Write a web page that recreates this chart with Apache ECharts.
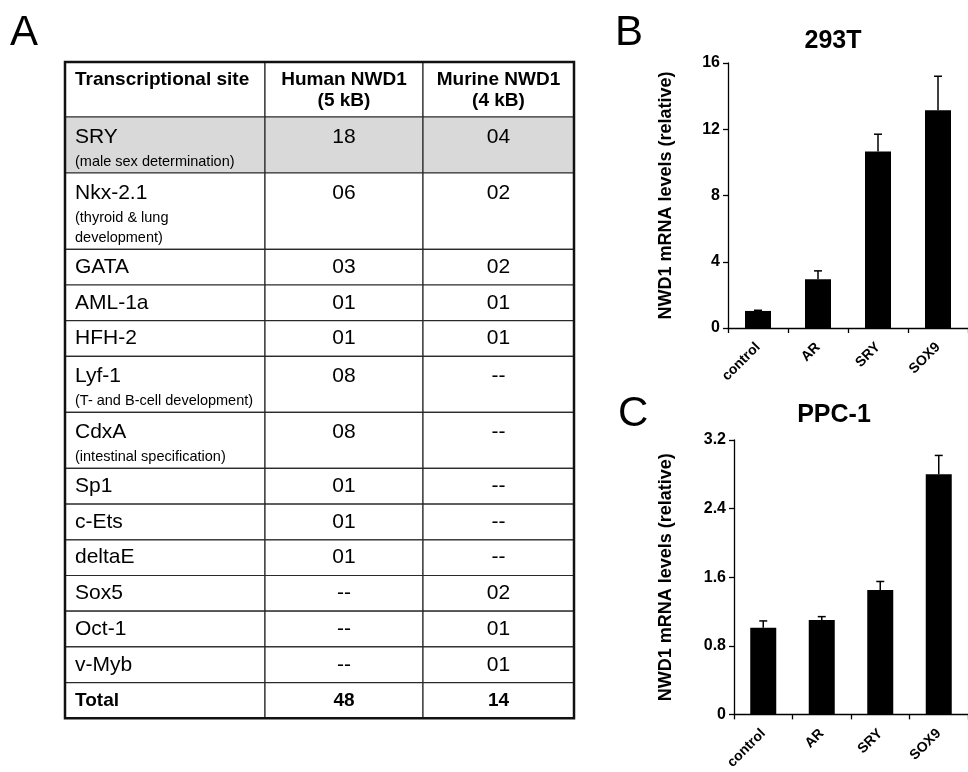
<!DOCTYPE html>
<html>
<head>
<meta charset="utf-8">
<script src="https://cdn.jsdelivr.net/npm/echarts@6/dist/echarts.min.js"></script>
<style>
html,body{margin:0;padding:0;background:#fff;}
#chart{width:968px;height:772px;}
</style>
</head>
<body>
<div id="chart"></div>
<script>
// ---------- DATA ----------
const tableHeaders = ['Transcriptional site', 'Human NWD1\n(5 kB)', 'Murine NWD1\n(4 kB)'];
const siteNames = ['SRY', 'Nkx-2.1', 'GATA', 'AML-1a', 'HFH-2', 'Lyf-1', 'CdxA', 'Sp1', 'c-Ets', 'deltaE', 'Sox5', 'Oct-1', 'v-Myb'];
const siteNotes = ['(male sex determination)', '(thyroid & lung\ndevelopment)', '', '', '', '(T- and B-cell development)', '(intestinal specification)', '', '', '', '', '', ''];
const humanSites = ['18', '06', '03', '01', '01', '08', '08', '01', '01', '01', '--', '--', '--'];
const murineSites = ['04', '02', '02', '01', '01', '--', '--', '--', '--', '--', '02', '01', '01'];
const totalLabel = 'Total';
const totalHuman = '48';
const totalMurine = '14';
const highlightedSites = ['SRY'];

const treatments = ['control', 'AR', 'SRY', 'SOX9'];
const mRNA293T = [1.03, 2.95, 10.65, 13.15];
const err293T = [0.04, 0.5, 1.05, 2.05];
const mRNAPPC1 = [1.01, 1.10, 1.45, 2.80];
const errPPC1 = [0.08, 0.04, 0.10, 0.22];
const yTicks293T = { min: 0, max: 16, interval: 4 };
const yTicksPPC1 = { min: 0, max: 3.2, interval: 0.8 };

// ---------- LAYOUT ----------
const FONT = '"Liberation Sans", Arial, Helvetica, sans-serif';
const colEdges = [0, 200, 358, 509];      // table column boundaries (px units)
const SINGLE_ROW = 35.7, NOTE_LINE = 20.3, HEADER_ROW = 55;

// build table rows from the named arrays
const tableRows = [];
tableRows.push({ kind: 'header', cells: tableHeaders, h: HEADER_ROW });
siteNames.forEach((name, i) => {
  const noteLines = siteNotes[i] ? siteNotes[i].split('\n').length : 0;
  tableRows.push({
    kind: 'site', name: name, note: siteNotes[i],
    cells: [name, humanSites[i], murineSites[i]],
    shaded: highlightedSites.indexOf(name) >= 0,
    h: SINGLE_ROW + NOTE_LINE * noteLines
  });
});
tableRows.push({ kind: 'total', cells: [totalLabel, totalHuman, totalMurine], h: SINGLE_ROW });

let acc = 0;
const tableData = tableRows.map((r, i) => { const d = [acc, acc + r.h, i]; acc += r.h; return d; });
const tableTotal = acc;

function renderTableRow(params, api) {
  const y0 = api.value(0), y1 = api.value(1), idx = api.value(2);
  const row = tableRows[idx];
  const children = [];
  const single = !row.note && row.kind !== 'header';
  for (let c = 0; c < 3; c++) {
    const p0 = api.coord([colEdges[c], y0]);
    const p1 = api.coord([colEdges[c + 1], y1]);
    children.push({
      type: 'rect',
      shape: { x: p0[0], y: p0[1], width: p1[0] - p0[0], height: p1[1] - p0[1] },
      style: { fill: row.shaded ? '#d9d9d9' : '#ffffff', stroke: '#2a2a2a', lineWidth: 1.2 }
    });
    const xLeft = p0[0], xMid = (p0[0] + p1[0]) / 2;
    const yTop = p0[1], yMid = (p0[1] + p1[1]) / 2;
    const bold = row.kind !== 'site';
    const size = row.kind === 'header' ? 19 : (row.kind === 'total' ? 19 : 21);
    if (row.kind === 'header') {
      children.push({
        type: 'text', x: c === 0 ? xLeft + 10 : xMid, y: yTop + 7.5,
        style: { text: row.cells[c], fill: '#000', fontFamily: FONT, fontWeight: 'bold', fontSize: size,
                 lineHeight: 21, align: c === 0 ? 'left' : 'center', verticalAlign: 'top' }
      });
    } else {
      children.push({
        type: 'text', x: c === 0 ? xLeft + 10 : xMid, y: single ? yMid : yTop + 20,
        style: { text: row.cells[c], fill: '#000', fontFamily: FONT, fontWeight: bold ? 'bold' : 'normal',
                 fontSize: size, align: c === 0 ? 'left' : 'center', verticalAlign: 'middle' }
      });
      if (c === 0 && row.note) {
        children.push({
          type: 'text', x: xLeft + 10, y: yTop + 35,
          style: { text: row.note, fill: '#000', fontFamily: FONT, fontSize: 14.5, lineHeight: 20,
                   align: 'left', verticalAlign: 'top' }
        });
      }
    }
  }
  return { type: 'group', children: children };
}

function renderFrame(params, api) {
  const p0 = api.coord([colEdges[0], 0]);
  const p1 = api.coord([colEdges[3], api.value(1)]);
  return { type: 'rect', shape: { x: p0[0], y: p0[1], width: p1[0] - p0[0], height: p1[1] - p0[1] },
           style: { fill: 'none', stroke: '#111', lineWidth: 2.5 } };
}

function makeErrorRenderer(values, errors) {
  return function (params, api) {
    const i = api.value(0);
    const top = api.coord([i, values[i]]);
    const end = api.coord([i, values[i] + errors[i]]);
    return {
      type: 'group',
      children: [
        { type: 'line', shape: { x1: top[0], y1: top[1], x2: end[0], y2: end[1] }, style: { stroke: '#000', lineWidth: 1.5 } },
        { type: 'line', shape: { x1: end[0] - 4, y1: end[1], x2: end[0] + 4, y2: end[1] }, style: { stroke: '#000', lineWidth: 1.5 } }
      ]
    };
  };
}

function valueAxis(grid, ticks, gap) {
  return {
    type: 'value', gridIndex: grid, min: ticks.min, max: ticks.max, interval: ticks.interval,
    name: 'NWD1 mRNA levels (relative)', nameLocation: 'middle', nameRotate: 90, nameGap: gap,
    nameTextStyle: { fontFamily: FONT, fontWeight: 'bold', fontSize: 18, color: '#000' },
    axisLine: { show: true, lineStyle: { color: '#000', width: 1.3 } },
    axisTick: { show: true, inside: false, length: 5, lineStyle: { color: '#000', width: 1.3 } },
    splitLine: { show: false },
    axisLabel: { fontFamily: FONT, fontWeight: 'bold', fontSize: 16, color: '#000', margin: 8 }
  };
}
function categoryAxis(grid) {
  return {
    type: 'category', gridIndex: grid, data: treatments, boundaryGap: true,
    axisLine: { show: true, lineStyle: { color: '#000', width: 1.3 } },
    axisTick: { show: true, alignWithLabel: false, length: 5, lineStyle: { color: '#000', width: 1.3 } },
    axisLabel: { interval: 0, rotate: 45, margin: 17, fontFamily: FONT, fontWeight: 'bold', fontSize: 14, color: '#000' }
  };
}

const letterStyle = { fontFamily: FONT, fontWeight: 'normal', fontSize: 42, color: '#000' };
const titleStyle = { fontFamily: FONT, fontWeight: 'bold', fontSize: 25, color: '#000' };

const chart = echarts.init(document.getElementById('chart'), null, { renderer: 'canvas' });
chart.setOption({
  animation: false,
  backgroundColor: '#ffffff',
  title: [
    { text: 'A', left: 10, top: 12, padding: 0, textStyle: letterStyle },
    { text: 'B', left: 615, top: 12, padding: 0, textStyle: letterStyle },
    { text: 'C', left: 618, top: 393, padding: 0, textStyle: letterStyle },
    { text: '293T', left: 833, top: 29, padding: 0, textAlign: 'center', textStyle: titleStyle },
    { text: 'PPC-1', left: 834, top: 403, padding: 0, textAlign: 'center', textStyle: titleStyle }
  ],
  grid: [
    { left: 65, top: 62, width: colEdges[3], height: tableTotal, containLabel: false },
    { left: 728, top: 63, right: -8, height: 265, containLabel: false },
    { left: 734, top: 440, right: -10, height: 278, containLabel: false }
  ],
  xAxis: [
    { type: 'value', gridIndex: 0, min: 0, max: colEdges[3], show: false },
    categoryAxis(1),
    categoryAxis(2)
  ],
  yAxis: [
    { type: 'value', gridIndex: 0, min: 0, max: tableTotal, inverse: true, show: false },
    valueAxis(1, yTicks293T, 53),
    valueAxis(2, yTicksPPC1, 59)
  ],
  series: [
    { type: 'custom', xAxisIndex: 0, yAxisIndex: 0, data: tableData, renderItem: renderTableRow, clip: false, silent: true },
    { type: 'custom', xAxisIndex: 0, yAxisIndex: 0, data: [[0, tableTotal]], renderItem: renderFrame, clip: false, silent: true, z: 5 },
    { type: 'bar', xAxisIndex: 1, yAxisIndex: 1, data: mRNA293T, barWidth: 26, itemStyle: { color: '#000' } },
    { type: 'custom', xAxisIndex: 1, yAxisIndex: 1, data: treatments.map((t, i) => [i]), renderItem: makeErrorRenderer(mRNA293T, err293T), clip: false, z: 3 },
    { type: 'bar', xAxisIndex: 2, yAxisIndex: 2, data: mRNAPPC1, barWidth: 26, itemStyle: { color: '#000' } },
    { type: 'custom', xAxisIndex: 2, yAxisIndex: 2, data: treatments.map((t, i) => [i]), renderItem: makeErrorRenderer(mRNAPPC1, errPPC1), clip: false, z: 3 }
  ]
});
</script>
</body>
</html>
